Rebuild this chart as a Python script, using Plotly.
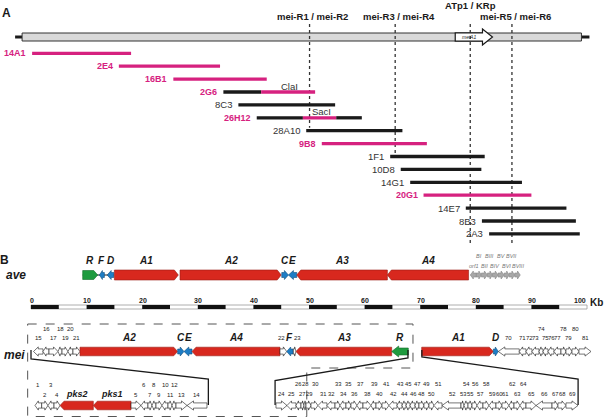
import plotly.graph_objects as go

W, H = 608, 418
PX_PER_KB = 5.56                      # map scale (pixels per kb)
X_LEFT_KB = -31 / PX_PER_KB
X_RIGHT_KB = (W - 31) / PX_PER_KB

FONT = "Liberation Sans, Arial, sans-serif"
MAG = "#d6217f"; RED = "#d8281e"; BLUE = "#1d7dc5"; GREEN = "#1f9b3f"
DARK = "#1a1a1a"; GENE_GRAY = "#a8a8a8"

# ---------------- Panel A data (kb) ----------------
clone_names = ["14A1", "2E4", "16B1", "2G6", "8C3", "26H12", "28A10", "9B8",
               "1F1", "10D8", "14G1", "20G1", "14E7", "8B3", "2A3"]
clone_highlight = [1, 1, 1, 1, 0, 1, 0, 1, 0, 0, 0, 1, 0, 0, 0]
seg_clone = [0, 1, 2, 3, 3, 4, 5, 5, 5, 6, 7, 8, 9, 10, 11, 12, 13, 14]
seg_start = [0.2, 15.8, 25.6, 34.6, 41.4, 37.3, 40.6, 48.9, 54.9, 49.5, 52.3, 64.6, 66.5, 68.2, 70.6, 78.2, 81.1, 82.4]
seg_end = [18.0, 34.0, 42.4, 41.4, 51.1, 54.7, 48.9, 54.9, 59.5, 66.8, 71.2, 81.6, 81.0, 88.3, 90.0, 96.3, 98.0, 98.7]
seg_highlight = [1, 1, 1, 0, 1, 0, 0, 1, 0, 0, 1, 0, 0, 0, 1, 0, 0, 0]

site_names = ["ClaI", "SacI"]
site_kb = [46.5, 52.3]
site_clone = [3, 5]

marker_labels = ["mei-R1 / mei-R2", "mei-R3 / mei-R4", "ATp1 / KRp", "mei-R5 / mei-R6"]
marker_kb = [50.1, 65.5, 79.0, 86.5]
marker_label_kb = [50.7, 66.2, 79.1, 87.2]
marker_label_level = [1, 1, 0, 1]
marker_end_clone = [6, 8, 15, 15]

region_kb = [-1.6, 99.0]
meiA1_kb = [76.3, 83.0]

# ---------------- Panel B data (kb) ----------------
scale_ticks = [0, 10, 20, 30, 40, 50, 60, 70, 80, 90, 100]

ave_names = ["R", "F", "D", "A1", "A2", "C", "E", "A3", "A4",
             "orf1", "BI", "BII", "BIII", "BIV", "BV", "BVI", "BVII", "BVIII"]
ave_start = [9.3, 12.3, 13.7, 15.0, 26.8, 45.1, 46.3, 47.8, 64.1,
             79.0, 80.1, 81.0, 82.1, 83.0, 84.0, 85.1, 86.0, 87.0]
ave_end = [12.0, 13.2, 14.9, 26.5, 45.0, 46.3, 47.8, 64.1, 78.7,
           80.1, 81.0, 82.1, 83.0, 84.0, 85.1, 86.0, 87.0, 88.0]
ave_strand = "+--+++----++++++++"
ave_kind = ["reg", "blue", "blue", "pks", "pks", "blue", "blue", "pks", "pks"] + ["gray"] * 9

mei_top1_names = ["15", "16", "17", "18", "19", "20", "21", "A2", "C", "E", "A4", "22", "F", "23", "A3", "R"]
mei_top1_bounds = [0.45, 2.16, 3.24, 4.86, 5.58, 6.65, 7.55, 8.81, 26.38, 27.52, 28.96,
                   44.78, 45.99, 47.18, 47.66, 64.87, 67.86]
mei_top1_strand = "--+-+-+++--+-+--"
mei_top1_kind = ["other"] * 7 + ["pks", "blue", "blue", "pks", "other", "blue", "other", "pks", "reg"]

mei_top2_names = ["A1", "D", "70", "71", "72", "73", "74", "75", "76", "77", "78", "79", "80", "81"]
mei_top2_bounds = [70.27, 83.15, 84.05, 87.82, 89.03, 90.11, 91.37, 92.09, 92.99,
                   94.06, 95.32, 96.22, 97.30, 98.56, 100.72]
mei_top2_strand = "++--------++++"
mei_top2_kind = ["pks", "blue"] + ["other"] * 12

mei_bot1_names = ["1", "2", "3", "4", "pks2", "pks1", "5", "6", "7", "8", "9", "10", "11", "12", "13", "14"]
mei_bot1_bounds = [0.72, 1.92, 3.06, 4.14, 5.22, 11.21, 17.99, 19.78, 21.04, 21.76, 22.48,
                   23.56, 24.64, 25.36, 26.08, 28.06, 31.65]
mei_bot1_strand = "-+-+--+-+-+-+-+-"
mei_bot1_kind = ["other"] * 4 + ["pks", "pks"] + ["other"] * 10

mei_bot2_names = [str(i) for i in range(24, 70)]
mei_bot2_bounds = [44.06, 46.04, 47.66, 48.56, 49.10, 49.46, 50.36, 51.62, 53.24, 54.68,
                   55.58, 56.65, 57.55, 58.63, 59.71, 61.15, 62.05, 63.13, 64.39, 65.83,
                   66.73, 67.45, 68.17, 69.06, 69.78, 70.68, 71.58, 72.48, 73.92, 77.34,
                   77.88, 78.60, 79.32, 80.22, 81.29, 82.37, 83.63, 84.71, 85.97, 86.87,
                   87.95, 89.03, 90.83, 93.71, 94.78, 96.22, 98.38]
mei_bot2_strand = "+--++++--+" + "-++-+-++--" + "----+++--+" + "-++-+-++-+" + "-+-+++"
mei_bot2_kind = ["other"] * 46

upper_labels = {"16", "18", "20", "74", "78", "80", "1", "3", "6", "8", "10", "12",
                "26", "28", "30", "33", "35", "37", "39", "41", "43", "45", "47", "49", "51",
                "54", "56", "58", "62", "64", "BI", "BIII", "BV", "BVII"}

connector_top_kb = [0.0, 67.8, 70.3]
connector_bottom_kb = [31.9, 43.9, 98.4]

# ---------------- layout constants (pixels) ----------------
CLONE_Y0, CLONE_DY = 53.3, 12.9
AVE_Y, MEI_TOP_Y, MEI_BOT_Y = 275, 351.5, 405.5
LABEL_NUDGE = {"22": -1.5, "F": -0.5, "23": 2.5}   # small pixel nudges for crowded labels

shapes, annots = [], []


def kb(px_len):
    return px_len / PX_PER_KB


def text(x, y, t, size, color=DARK, bold=False, italic=False, xanchor="center",
         xref="x", xshift=0):
    s = t
    if bold:
        s = "<b>" + s + "</b>"
    if italic:
        s = "<i>" + s + "</i>"
    annots.append(dict(x=x, y=y, xref=xref, yref="y", text=s, showarrow=False,
                       xanchor=xanchor, yanchor="middle", xshift=xshift,
                       font=dict(family=FONT, size=size, color=color)))


def line(x0, y0, x1, y1, color=DARK, width=1, dash=None):
    ln = dict(color=color, width=width)
    if dash:
        ln["dash"] = dash
    shapes.append(dict(type="line", xref="x", yref="y", x0=x0, y0=y0, x1=x1, y1=y1, line=ln))


def path(pts, fill, lcolor, lwidth=0.7, dash=None, closed=True):
    d = "M " + " L ".join(f"{x:.3f},{y:.2f}" for x, y in pts) + (" Z" if closed else "")
    ln = dict(color=lcolor, width=lwidth)
    if dash:
        ln["dash"] = dash
    shapes.append(dict(type="path", xref="x", yref="y", path=d,
                       fillcolor=fill, line=ln))


def gene(s, e, strand, yc, kind, big=False):
    lpx = (e - s) * PX_PER_KB
    if kind == "pks":
        hb = 5 if big else 4.3
        hh, head, fill, lc = hb, 4, RED, "#9a1c14"
    elif kind == "reg":
        if big:
            hb, hh, head = 4.5, 4.5, 4
        else:
            hb, hh, head = 3.5, 5.5, 7
        fill, lc = GREEN, "#146b2a"
    elif kind == "blue":
        hb, hh, head, fill, lc = 2.5, 4.5, 0.6 * lpx, BLUE, "#0f4f80"
    elif kind == "gray":
        hb, hh, head, fill, lc = 2.0, 4.0, 0.5 * lpx, GENE_GRAY, "#888888"
    else:
        hb, hh, head, fill, lc = 2.6, 4.6, min(0.5 * lpx, 6.5), "white", DARK
    h = min(kb(head), e - s)
    if strand == "+":
        b = e - h
        pts = [(s, yc - hb), (b, yc - hb), (b, yc - hh), (e, yc), (b, yc + hh), (b, yc + hb), (s, yc + hb)]
    else:
        b = s + h
        pts = [(e, yc - hb), (b, yc - hb), (b, yc - hh), (s, yc), (b, yc + hh), (b, yc + hb), (e, yc + hb)]
    path(pts, fill, lc, 0.6)


# ================= Panel A =================
text(6 / W, 12.5, "A", 12, bold=True, xref="paper")
line(region_kb[0] - kb(7), 37, region_kb[0], 37, DARK, 3)
line(region_kb[1], 37, region_kb[1] + kb(8), 37, DARK, 3)
shapes.append(dict(type="rect", xref="x", yref="y", x0=region_kb[0], x1=region_kb[1], y0=33, y1=41,
                   fillcolor="#d9d9d9", line=dict(color="#333333", width=1)))
a0, a1 = meiA1_kb
hb_ = a1 - kb(10)
path([(a0, 32.8), (hb_, 32.8), (hb_, 29), (a1, 37), (hb_, 45), (hb_, 41.2), (a0, 41.2)],
     "white", DARK, 1.2)
text((a0 + hb_) / 2, 37, "meiA1", 5, italic=True)

for i, name in enumerate(marker_labels):
    yend = CLONE_Y0 + CLONE_DY * marker_end_clone[i] - 3
    line(marker_kb[i], 24, marker_kb[i], yend, "#333333", 1.3, "dot")
    text(marker_label_kb[i], 5 if marker_label_level[i] == 0 else 16, name, 9.5, bold=True)

for k in range(len(seg_clone)):
    y = CLONE_Y0 + CLONE_DY * seg_clone[k]
    line(seg_start[k], y, seg_end[k], y, MAG if seg_highlight[k] else DARK, 3.3)
for i, name in enumerate(clone_names):
    y = CLONE_Y0 + CLONE_DY * i
    start = min(seg_start[k] for k in range(len(seg_clone)) if seg_clone[k] == i)
    if clone_highlight[i]:
        text(start, y, name, 9, MAG, bold=True, xanchor="right", xshift=-4)
    else:
        text(start, y, name, 9.5, "#333333", xanchor="right", xshift=-4)
for i, s in enumerate(site_names):
    text(site_kb[i], CLONE_Y0 + CLONE_DY * site_clone[i] - 6, s, 9.5, "#333333")

# ================= Panel B =================
text(4 / W, 259.5, "B", 12, bold=True, xref="paper")
text(16 / W, 275, "ave", 12, bold=True, italic=True, xref="paper")
text(14 / W, 355, "mei", 12, bold=True, italic=True, xref="paper")

line(ave_start[0], AVE_Y, ave_end[2], AVE_Y, DARK, 1)
for i, n in enumerate(ave_names):
    gene(ave_start[i], ave_end[i], ave_strand[i], AVE_Y, ave_kind[i], big=True)
    c = (ave_start[i] + ave_end[i]) / 2
    if ave_kind[i] == "gray":
        text(c, 255.5 if n in upper_labels else 265.5, n, 5.5, "#777777", italic=True)
    else:
        text(c, 260.5, n, 10, bold=True, italic=True)

shapes.append(dict(type="rect", xref="x", yref="y", x0=0, x1=100, y0=305, y1=309,
                   fillcolor="white", line=dict(color="#999999", width=0.8)))
for t in scale_ticks[:-1]:
    shapes.append(dict(type="rect", xref="x", yref="y", x0=t, x1=t + 5, y0=305, y1=309,
                       fillcolor="#111111", line=dict(width=0)))
for t in scale_ticks:
    if t == scale_ticks[-1]:
        text(t, 300.5, str(t), 7, bold=True, xanchor="right", xshift=1)
    else:
        text(t, 300.5, str(t), 7, bold=True, xshift=0.5)
text(scale_ticks[-1], 302, "Kb", 10, bold=True, xanchor="left", xshift=1)

dl, dr, ds = -0.6, 68.7, 49.6
path([(dl, 324), (dr, 324), (dr, 368), (ds, 368), (ds, 416.5), (dl, 416.5), (dl, 324)],
     "rgba(0,0,0,0)", "#555555", 1, dash="dash", closed=False)


def draw_row(names, bounds, strands, kinds, yc, up_y, lo_y, small_font):
    for i, n in enumerate(names):
        s, e = bounds[i], bounds[i + 1]
        gene(s, e, strands[i], yc, kinds[i])
        c = (s + e) / 2
        nudge = LABEL_NUDGE.get(n, 0)
        if n.isdigit():
            text(c, up_y if n in upper_labels else lo_y, n, small_font, DARK, xshift=nudge)
        else:
            size = 9 if n.startswith("pks") else 10
            text(c, lo_y - 0.5, n, size, DARK, bold=True, italic=True, xshift=nudge)


draw_row(mei_top1_names, mei_top1_bounds, mei_top1_strand, mei_top1_kind, MEI_TOP_Y, 329, 337.5, 6)
draw_row(mei_top2_names, mei_top2_bounds, mei_top2_strand, mei_top2_kind, MEI_TOP_Y, 329, 337.5, 6)
draw_row(mei_bot1_names, mei_bot1_bounds, mei_bot1_strand, mei_bot1_kind, MEI_BOT_Y, 384.5, 394.5, 6)
draw_row(mei_bot2_names, mei_bot2_bounds, mei_bot2_strand, mei_bot2_kind, MEI_BOT_Y, 384, 394, 5.8)

conn_y = [(350, 359, 379), (350, 358, 380.5), (350, 357, 379)]
for i in range(3):
    xt, xb = connector_top_kb[i], connector_bottom_kb[i]
    y0, y1, y2 = conn_y[i]
    path([(xt, y0), (xt, y1), (xb, y2), (xb, 405)], "rgba(0,0,0,0)", DARK, 1.3, closed=False)

fig = go.Figure()
fig.add_trace(go.Scatter(x=[], y=[], showlegend=False))
fig.update_layout(
    width=W, height=H, margin=dict(l=0, r=0, t=0, b=0),
    paper_bgcolor="white", plot_bgcolor="white",
    xaxis=dict(range=[X_LEFT_KB, X_RIGHT_KB], visible=False, fixedrange=True),
    yaxis=dict(range=[H, 0], visible=False, fixedrange=True),
    shapes=shapes, annotations=annots, showlegend=False,
)
fig.write_html("out.html", config={"displayModeBar": False},
               post_script="document.body.style.margin='0';document.body.style.overflow='hidden';")
